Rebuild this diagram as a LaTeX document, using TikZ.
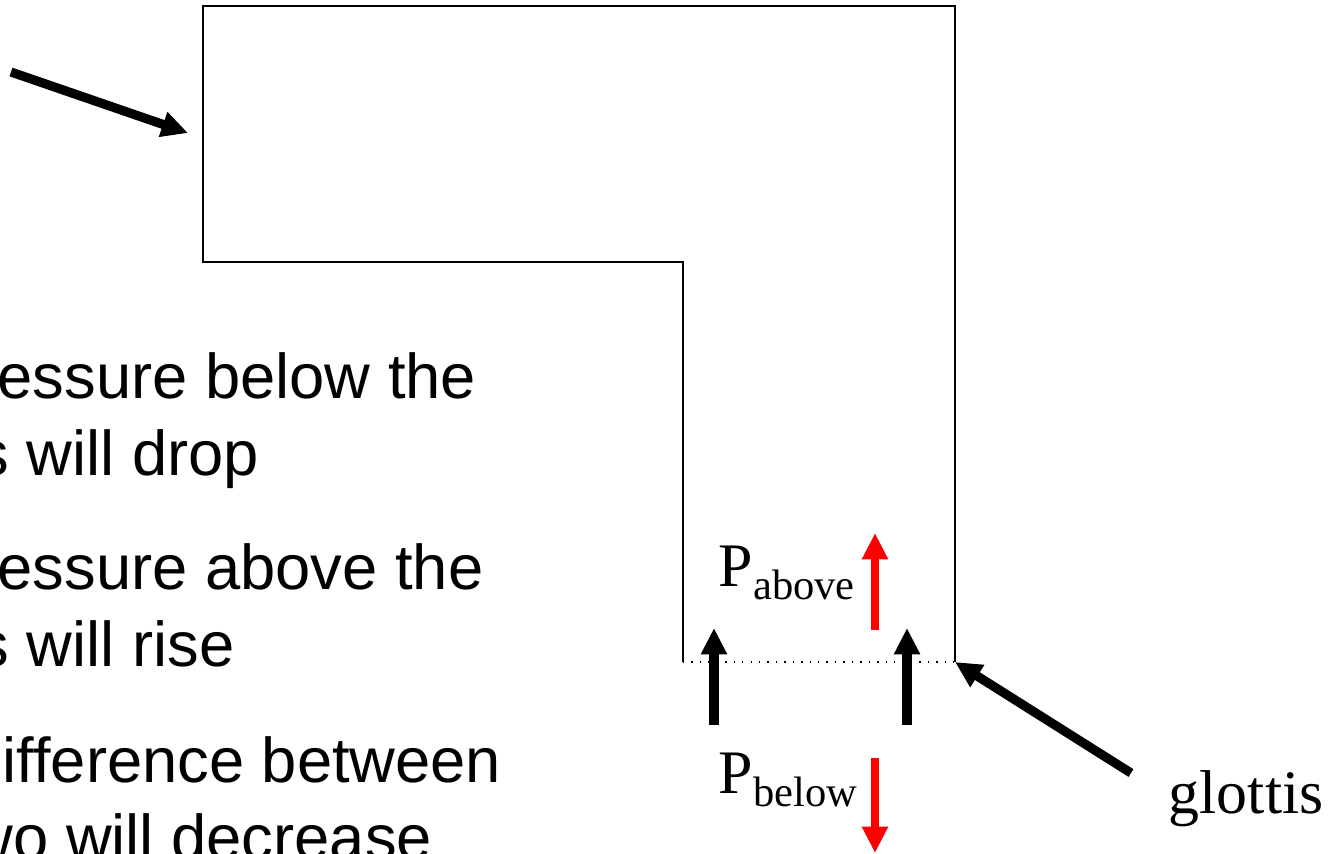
\documentclass[tikz,border=0pt]{standalone}
\usepackage{fontspec}
\newfontfamily\arialfont{Liberation Sans}
\newfontfamily\timesfont{Liberation Serif}
\usetikzlibrary{arrows.meta}

\newcommand{\bullettext}{\arialfont\fontsize{18}{22}\selectfont}
\newcommand{\labeltext}{\timesfont\fontsize{17.6}{20}\selectfont}
\newcommand{\sublabel}[1]{\raisebox{-3.7pt}{\fontsize{12.1}{14}\selectfont #1}}

\begin{document}
\begin{tikzpicture}[x=0.01cm, y=-0.01cm,
    fat/.style={line width=2.6pt, -{Triangle[width=7pt,length=7.5pt]}},
    fatred/.style={fat, line width=2.4pt, red},
    txt/.style={inner sep=0pt, anchor=base west}]
\useasboundingbox (0,0) rectangle (1330,853);
\clip (0,0) rectangle (1330,853);

% the tube: wide upper part, narrow lower part
\draw[line width=0.5pt] (683,662) -- (683,262) -- (203,262) -- (203,6)
  -- (955,6) -- (955,662);
\coordinate (gl) at (683,662);
\coordinate (gr) at (955,662);
\draw[line width=0.4pt, dotted] (gl) -- (gr);

% bullet lines on the left
\node[txt] (below1) at (-3,398) {\bullettext essure below the};
\node[txt] (below2) at (-23,475) {\bullettext s will drop};
\node[txt] (above1) at (-3,589) {\bullettext essure above the};
\node[txt] (above2) at (-23,666) {\bullettext s will rise};
\node[txt] (diff1) at (2,782) {\bullettext ifference between};
\node[txt] (diff2) at (-33,859) {\bullettext wo will decrease};

% pressure labels
\node[txt] (pabove) at (718,586) {\labeltext P\sublabel{above}};
\node[txt] (pbelow) at (718,793) {\labeltext P\sublabel{below}};
\node[txt] (glottis) at (1168,813) {\labeltext glottis};

% arrows
\coordinate (tl0) at (11,72);
\coordinate (tl1) at (188,133);
\draw[fat] (tl0) -- (tl1);
\coordinate (g0) at (1131,773);
\draw[fat] (g0) -- (gr);

\coordinate (fl0) at (714,725);
\coordinate (fl1) at (714,628);
\draw[fat] (fl0) -- (fl1);
\coordinate (fr0) at (907,725);
\coordinate (fr1) at (907,628);
\draw[fat] (fr0) -- (fr1);

\coordinate (ra0) at (875,630);
\coordinate (ra1) at (875,533);
\draw[fatred] (ra0) -- (ra1);
\coordinate (rb0) at (875,758);
\coordinate (rb1) at (875,853);
\draw[fatred] (rb0) -- (rb1);
\end{tikzpicture}
\end{document}
